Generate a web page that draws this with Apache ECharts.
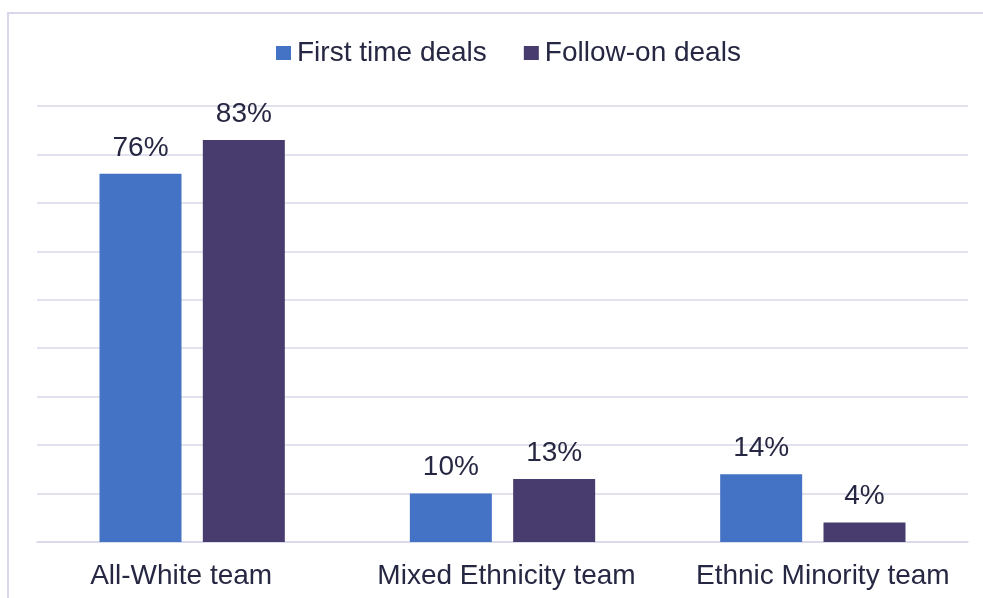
<!DOCTYPE html>
<html>
<head>
<meta charset="utf-8">
<script src="https://cdn.jsdelivr.net/npm/echarts@6/dist/echarts.min.js"></script>
<style>
  html, body { margin: 0; padding: 0; background: #ffffff; }
  #chart { width: 983px; height: 598px; }
</style>
</head>
<body>
<div id="chart"></div>
<script>
// Share of deals by team ethnicity
const categories = ['All-White team', 'Mixed Ethnicity team', 'Ethnic Minority team'];
const firstTimeDeals = [76, 10, 14];
const followOnDeals = [83, 13, 4];
const seriesNames = ['First time deals', 'Follow-on deals'];

// horizontal nudge (px) of each category label from its tick centre
const labelShift = [-11, 4, 10];

const textColor = '#262742';
const gridColor = '#d9d8ea';
const fontFamily = '"Liberation Sans", Arial, sans-serif';
const fontSize = 28;

const chart = echarts.init(document.getElementById('chart'), null, { renderer: 'canvas' });

const labelCfg = {
  show: true,
  position: 'top',
  distance: 12,
  color: textColor,
  fontFamily: fontFamily,
  fontSize: fontSize,
  formatter: p => p.value + '%'
};

const categoryData = categories.map((name, i) => {
  const s = labelShift[i];
  return {
    value: name,
    textStyle: { padding: s < 0 ? [0, -2 * s, 0, 0] : [0, 0, 0, 2 * s] }
  };
});

chart.setOption({
  animation: false,
  backgroundColor: '#ffffff',
  graphic: [{
    type: 'rect',
    shape: { x: 8, y: 13, width: 1100, height: 1000 },
    style: { fill: 'none', stroke: gridColor, lineWidth: 2 },
    silent: true
  }],
  legend: {
    left: 276,
    top: 39,
    padding: 0,
    itemWidth: 15,
    itemHeight: 14,
    itemGap: 37,
    icon: 'rect',
    textStyle: { color: textColor, fontFamily: fontFamily, fontSize: fontSize, padding: [0, 0, 0, 1] },
    data: seriesNames
  },
  grid: { left: 37, right: 15, top: 106, bottom: 56, containLabel: false },
  xAxis: {
    type: 'category',
    data: categoryData,
    axisLine: { show: true, lineStyle: { color: gridColor, width: 1.5 } },
    axisTick: { show: false },
    axisLabel: { color: textColor, fontFamily: fontFamily, fontSize: fontSize, margin: 20, interval: 0 }
  },
  yAxis: {
    type: 'value',
    min: 0,
    max: 90,
    interval: 10,
    axisLabel: { show: false },
    axisLine: { show: false },
    axisTick: { show: false },
    splitLine: { lineStyle: { color: gridColor, width: 1.5 } }
  },
  series: [
    {
      name: seriesNames[0],
      type: 'bar',
      data: firstTimeDeals,
      barWidth: 82,
      barGap: '26%',
      itemStyle: { color: '#4472c4' },
      label: labelCfg
    },
    {
      name: seriesNames[1],
      type: 'bar',
      data: followOnDeals,
      barWidth: 82,
      itemStyle: { color: '#483c6e' },
      label: labelCfg
    }
  ]
});
</script>
</body>
</html>
